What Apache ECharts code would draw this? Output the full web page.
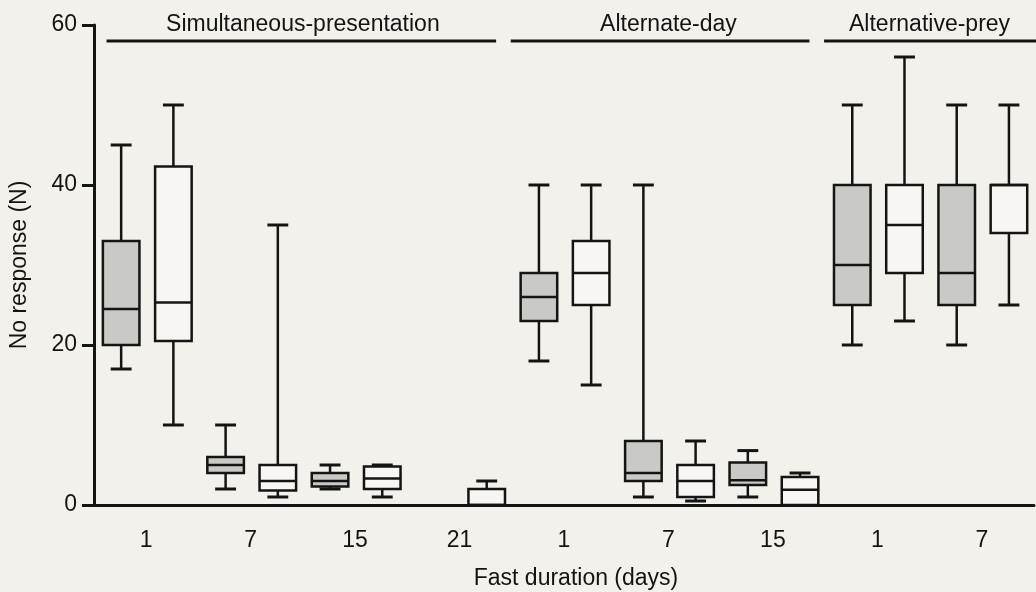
<!doctype html>
<html lang="en">
<head>
	<meta charset="utf-8" />
	<title>No response by fast duration</title>
	<script src="https://cdn.jsdelivr.net/npm/echarts@6/dist/echarts.min.js"></script>
	<style>
		html, body { margin: 0; padding: 0; background: #f3f1eb; }
		#main { width: 1036px; height: 592px; }
	</style>
</head>
<body>
	<div id="main"></div>
	<script>
		// x categories (fast duration, days)
		var categories = ['1', '7', '15', '21', '1', '7', '15', '1', '7'];
		// [min, q1, median, q3, max] per category, null = no box
		var grayStats = [
			[17, 20, 24.5, 33, 45],
			[2, 4, 5, 6, 10],
			[2, 2.3, 3, 4, 5],
			null,
			[18, 23, 26, 29, 40],
			[1, 3, 4, 8, 40],
			[1, 2.5, 3.1, 5.3, 6.8],
			[20, 25, 30, 40, 50],
			[20, 25, 29, 40, 50]
		];
		var whiteStats = [
			[10, 20.5, 25.3, 42.3, 50],
			[1, 1.8, 3, 5, 35],
			[1, 2, 3.3, 4.8, 5],
			[0, 0, 0, 2, 3],
			[15, 25, 29, 33, 40],
			[0.5, 1, 3, 5, 8],
			[0, 0, 1.9, 3.5, 4],
			[23, 29, 35, 40, 56],
			[25, 34, 40, 40, 50]
		];
		var groupNames = ['Simultaneous-presentation', 'Alternate-day', 'Alternative-prey'];
		var groupSpans = [[0, 3], [4, 6], [7, 8]];

		var FONT = "'Liberation Sans', Arial, Helvetica, sans-serif";
		var INK = '#141414';
		var FS = 23;

		function toRows(stats) {
			var rows = [];
			stats.forEach(function (s, i) {
				if (s) rows.push([i].concat(s));
			});
			return rows;
		}

		function boxRenderer(offset, fill) {
			return function (params, api) {
				var idx = api.value(0);
				var band = api.size([1, 0])[0];
				var p = [1, 2, 3, 4, 5].map(function (d) { return api.coord([idx, api.value(d)]); });
				var cx = p[0][0] + offset * band;
				var hw = band * 0.175;
				var cw = band * 0.1;
				var yMin = p[0][1], yQ1 = p[1][1], yMed = p[2][1], yQ3 = p[3][1], yMax = p[4][1];
				var ls = { stroke: INK, lineWidth: 2.5 };
				return {
					type: 'group',
					children: [
						{ type: 'line', shape: { x1: cx, y1: yQ3, x2: cx, y2: yMax }, style: ls },
						{ type: 'line', shape: { x1: cx, y1: yQ1, x2: cx, y2: yMin }, style: ls },
						{ type: 'line', shape: { x1: cx - cw, y1: yMax, x2: cx + cw, y2: yMax }, style: { stroke: INK, lineWidth: 3 } },
						{ type: 'line', shape: { x1: cx - cw, y1: yMin, x2: cx + cw, y2: yMin }, style: { stroke: INK, lineWidth: 3 } },
						{ type: 'rect', shape: { x: cx - hw, y: yQ3, width: hw * 2, height: yQ1 - yQ3 }, style: { fill: fill, stroke: INK, lineWidth: 2.5 } },
						{ type: 'line', shape: { x1: cx - hw, y1: yMed, x2: cx + hw, y2: yMed }, style: ls }
					]
				};
			};
		}

		function groupRenderer(params, api) {
			var first = api.value(0), last = api.value(1), gi = api.value(2);
			var band = api.size([1, 0])[0];
			var a = api.coord([first, 58]);
			var b = api.coord([last, 58]);
			var left = a[0] - band / 2, right = b[0] + band / 2;
			var x1 = left + band * (first === 0 ? 0.12 : -0.01);
			var x2 = last === categories.length - 1 ? right + band : right - band * 0.15;
			var t = api.coord([first, 60]);
			return {
				type: 'group',
				children: [
					{ type: 'line', shape: { x1: x1, y1: a[1], x2: x2, y2: a[1] }, style: { stroke: INK, lineWidth: 3 } },
					{ type: 'text', style: { text: groupNames[gi], x: (left + right) / 2, y: t[1], fill: INK, font: FS + 'px ' + FONT,
						align: 'center', verticalAlign: 'middle', textAlign: 'center', textVerticalAlign: 'middle' } }
				]
			};
		}

		var chart = echarts.init(document.getElementById('main'));
		chart.setOption({
			backgroundColor: '#f3f1eb',
			animation: false,
			textStyle: { fontFamily: FONT, color: INK },
			grid: { left: 94, right: 2, top: 25, bottom: 87, containLabel: false, outerBoundsMode: 'none' },
			xAxis: {
				type: 'category',
				data: categories,
				boundaryGap: true,
				axisLine: { lineStyle: { color: INK, width: 3 } },
				axisTick: { length: 10, lineStyle: { color: INK, width: 3 } },
				axisLabel: { fontSize: FS, color: INK, margin: 24, fontFamily: FONT },
				splitLine: { show: false },
				name: 'Fast duration (days)',
				nameLocation: 'middle',
				nameGap: 62,
				nameTextStyle: { fontSize: FS, color: INK, fontFamily: FONT, padding: [0, 0, 0, 24] }
			},
			yAxis: {
				type: 'value',
				min: 0,
				max: 60,
				interval: 20,
				axisLine: { show: true, lineStyle: { color: INK, width: 3 } },
				axisTick: { show: true, length: 12, lineStyle: { color: INK, width: 3 } },
				axisLabel: { fontSize: FS, color: INK, margin: 17, fontFamily: FONT },
				splitLine: { show: false },
				name: 'No response (N)',
				nameLocation: 'middle',
				nameRotate: 90,
				nameGap: 63,
				nameTextStyle: { fontSize: FS, color: INK, fontFamily: FONT }
			},
			series: [
				{
					type: 'custom',
					name: 'gray',
					renderItem: boxRenderer(-0.24, '#c9c9c5'),
					encode: { x: 0, y: [1, 2, 3, 4, 5] },
					data: toRows(grayStats),
					clip: false
				},
				{
					type: 'custom',
					name: 'white',
					renderItem: boxRenderer(0.26, '#f7f6f2'),
					encode: { x: 0, y: [1, 2, 3, 4, 5] },
					data: toRows(whiteStats),
					clip: false
				},
				{
					type: 'custom',
					name: 'groups',
					renderItem: groupRenderer,
					encode: { x: [0, 1] },
					data: groupSpans.map(function (s, i) { return [s[0], s[1], i]; }),
					clip: false
				}
			]
		});
	</script>
</body>
</html>
